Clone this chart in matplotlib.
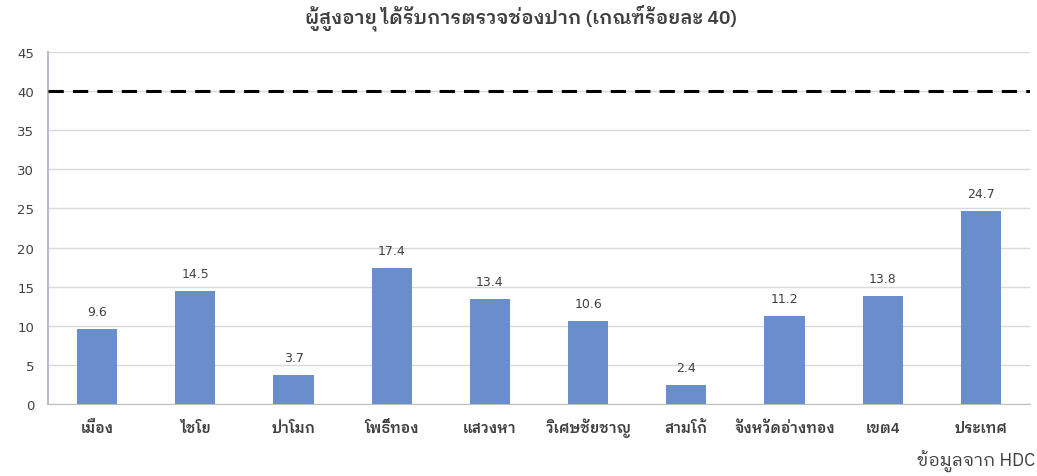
import matplotlib
matplotlib.use("Agg")
import matplotlib.pyplot as plt

categories = ["เมือง", "ไชโย", "ป่าโมก", "โพธิ์ทอง", "แสวงหา", "วิเศษชัยชาญ", "สามโก้", "จังหวัดอ่างทอง", "เขต4", "ประเทศ"]
values = [9.6, 14.5, 3.7, 17.4, 13.4, 10.6, 2.4, 11.2, 13.8, 24.7]
target = 40
yticks = [0, 5, 10, 15, 20, 25, 30, 35, 40, 45]

THAI = ['IBM Plex Sans Thai Looped', 'Noto Sans Thai Looped', 'DejaVu Sans']
plt.rcParams['font.family'] = ['DejaVu Sans', 'IBM Plex Sans Thai Looped']

fig = plt.figure(figsize=(10.37, 4.77), dpi=100)
ax = fig.add_axes([0.0463, 0.151, 0.947, 0.738])

x = list(range(len(categories)))
ax.bar(x, values, width=0.41, color="#6a8dcb", zorder=3)
for xi, v in zip(x, values):
    ax.text(xi, v + 1.4, f"{v:.1f}", ha="center", va="bottom", fontsize=9, color="#404040")

ax.axhline(target, color="black", linestyle=(0, (5, 3)), linewidth=2.2, zorder=4)

ax.set_xlim(-0.5, len(categories) - 0.5)
ax.set_ylim(0, 45)
ax.set_yticks(yticks)
ax.set_xticks(x)
ax.set_xticklabels(categories, fontsize=10.5, color="#404040", fontweight="semibold", family=THAI)
for lab in ax.get_xticklabels():
    lab.set_va("baseline")
ax.tick_params(axis="y", labelsize=9.5, colors="#404040", length=0, pad=10)
ax.tick_params(axis="x", length=0, pad=20)
ax.grid(axis="y", color="#d9d9d9", linewidth=1, zorder=0)
for s in ["top", "right"]:
    ax.spines[s].set_visible(False)
ax.spines["left"].set_color("#b4bccd")
ax.spines["left"].set_linewidth(1.5)
ax.spines["bottom"].set_color("#bfbfbf")

fig.text(0.502, 0.962, "ผู้สูงอายุ ได้รับการตรวจช่องปาก (เกณฑ์ร้อยละ 40)", ha="center", va="center",
         fontsize=13.8, fontweight="semibold", color="#404040", family=THAI)
fig.text(0.998, 0.032, "ข้อมูลจาก HDC", ha="right", va="center", fontsize=13, color="#404040", family=THAI)

fig.savefig("out.png", dpi=100)
